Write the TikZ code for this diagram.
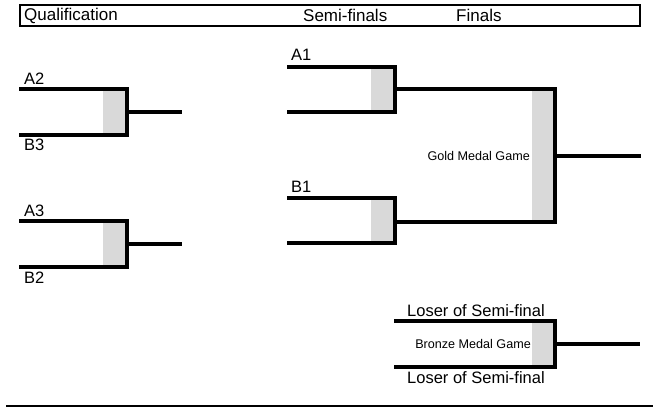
\documentclass[tikz,border=0pt]{standalone}
\usepackage{fontspec}
\setmainfont{Liberation Sans}
\usepackage{tikz}
\usetikzlibrary{arrows,shapes,positioning}
\definecolor{winbox}{RGB}{217,217,217}

\begin{document}
\begin{tikzpicture}[x=1pt,y=-1pt,
  bline/.style={line width=4pt,line join=miter},
  winshade/.style={fill=winbox,draw=none},
  team/.style={inner sep=0pt,anchor=west,font=\fontsize{16.5}{19}\selectfont},
  head/.style={inner sep=0pt,anchor=west,font=\fontsize{17}{19}\selectfont},
  game/.style={inner sep=0pt,anchor=east,font=\fontsize{12.6}{14}\selectfont}]
\useasboundingbox (0,0) rectangle (653,407);
%header
\draw[line width=2pt] (20,5) rectangle (640,26);
\node[head] (qual) at (24,15.5) {Qualification};
\node[head] (semi) at (303,15.5) {Semi-finals};
\node[head] (fin) at (456,15.5) {Finals};
%qualification A2 vs B3
\fill[winshade] (103,89) rectangle (125,135);
\draw[bline] (19,89) -- (127,89) -- (127,135) -- (19,135); \draw[bline] (127,112) -- (182,112);
\node[team] (A2) at (24,79) {A2}; \node[team] (B3) at (24,145) {B3};
%qualification A3 vs B2
\fill[winshade] (103,221) rectangle (125,267);
\draw[bline] (19,221) -- (127,221) -- (127,267) -- (19,267); \draw[bline] (127,244) -- (182,244);
\node[team] (A3) at (24,211) {A3}; \node[team] (B2) at (24,278) {B2};
%semi-final A1
\fill[winshade] (371,67) rectangle (393,112);
\draw[bline] (287,67) -- (395,67) -- (395,112) -- (287,112);
\node[team] (A1) at (291,55) {A1};
%semi-final B1
\fill[winshade] (371,198) rectangle (393,243);
\draw[bline] (287,198) -- (395,198) -- (395,243) -- (287,243);
\node[team] (B1) at (291,187) {B1};
%gold medal game
\fill[winshade] (532,89) rectangle (553,222);
\draw[bline] (395,89) -- (555,89) -- (555,222) -- (395,222); \draw[bline] (555,156) -- (641,156);
\node[game] (gold) at (530,156) {Gold Medal Game};
%bronze medal game
\fill[winshade] (532,321) rectangle (553,367);
\draw[bline] (394,321) -- (555,321) -- (555,367) -- (394,367); \draw[bline] (555,344) -- (640,344);
\node[game] (bronze) at (531,344) {Bronze Medal Game};
\node[team,anchor=center] (los1) at (476,311) {Loser of Semi-final};
\node[team,anchor=center] (los2) at (476,378) {Loser of Semi-final};
%bottom rule
\draw[line width=1.5pt] (6,406) -- (653,406);
\end{tikzpicture}
\end{document}
